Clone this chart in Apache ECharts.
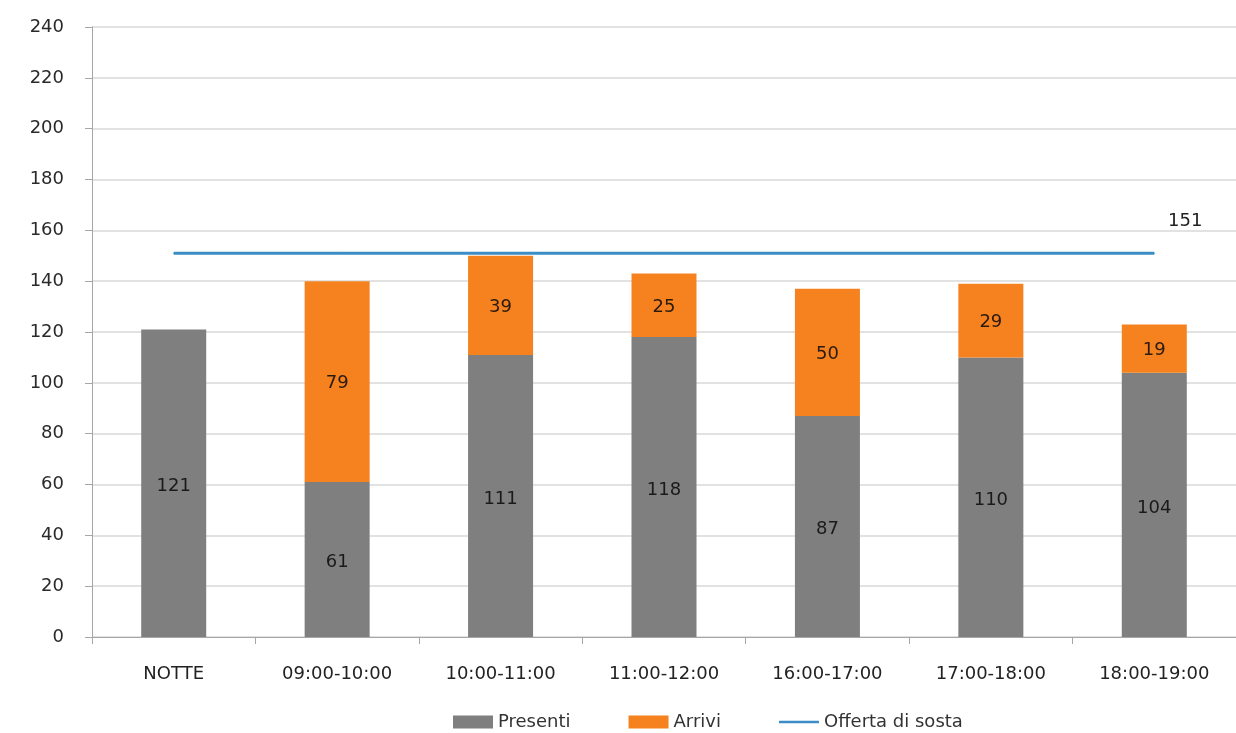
<!DOCTYPE html>
<html>
<head>
<meta charset="utf-8">
<script src="https://cdn.jsdelivr.net/npm/echarts@6/dist/echarts.min.js"></script>
<style>html,body{margin:0;padding:0;background:#fff;}#c{width:1236px;height:733px;}</style>
</head>
<body>
<div id="c"></div>
<script>
const categories = ['NOTTE', '09:00-10:00', '10:00-11:00', '11:00-12:00', '16:00-17:00', '17:00-18:00', '18:00-19:00'];
const presenti = [121, 61, 111, 118, 87, 110, 104];
const arrivi = [null, 79, 39, 25, 50, 29, 19];
const offerta = [151, 151, 151, 151, 151, 151, 151];
const yTicks = { min: 0, max: 240, interval: 20 };

const FONT = 'DejaVu Sans';
const chart = echarts.init(document.getElementById('c'), null, { renderer: 'canvas' });
chart.setOption({
  backgroundColor: '#ffffff',
  animation: false,
  textStyle: { fontFamily: FONT },
  grid: { left: 92, right: -5, top: 27, bottom: 96, containLabel: false },
  legend: {
    left: 448, top: 708,
    itemWidth: 40, itemHeight: 13, itemGap: 58,
    textStyle: { fontFamily: FONT, fontSize: 18, color: '#333' },
    data: [
      { name: 'Presenti', icon: 'rect' },
      { name: 'Arrivi', icon: 'rect' },
      { name: 'Offerta di sosta', icon: 'path://M0,0 L40,0 L40,2.5 L0,2.5 Z' }
    ]
  },
  xAxis: {
    type: 'category',
    data: categories,
    axisLine: { lineStyle: { color: '#a6a6a6', width: 1 } },
    axisTick: { show: true, length: 7, lineStyle: { color: '#a6a6a6' } },
    axisLabel: { fontFamily: FONT, fontSize: 18, color: '#222', margin: 28 }
  },
  yAxis: {
    type: 'value',
    min: yTicks.min, max: yTicks.max, interval: yTicks.interval,
    axisLine: { show: true, lineStyle: { color: '#a6a6a6', width: 1 } },
    axisTick: { show: true, length: 7, lineStyle: { color: '#a6a6a6' } },
    splitLine: { lineStyle: { color: '#d9d9d9', width: 1.5 } },
    axisLabel: { fontFamily: FONT, fontSize: 18, color: '#2a2a2a', margin: 28 }
  },
  series: [
    {
      name: 'Presenti', type: 'bar', stack: 'tot', data: presenti,
      barWidth: 65,
      itemStyle: { color: '#7f7f7f' },
      label: { show: true, position: 'inside', offset: [0, 3], fontFamily: FONT, fontSize: 18, color: '#1a1a1a' }
    },
    {
      name: 'Arrivi', type: 'bar', stack: 'tot', data: arrivi,
      barWidth: 65,
      itemStyle: { color: '#f5821f' },
      label: { show: true, position: 'inside', offset: [0, 2], fontFamily: FONT, fontSize: 18, color: '#2a1a10' }
    },
    {
      name: 'Offerta di sosta', type: 'line', data: offerta.map((v, i) => ({
        value: v,
        label: { show: i === offerta.length - 1 }
      })),
      symbol: 'circle', symbolSize: 1, showSymbol: true,
      lineStyle: { color: '#3c8dc5', width: 3 },
      itemStyle: { color: '#3c8dc5' },
      label: { position: 'top', offset: [31, -17], fontFamily: FONT, fontSize: 18, color: '#222' },
      z: 5
    }
  ]
});
</script>
</body>
</html>
